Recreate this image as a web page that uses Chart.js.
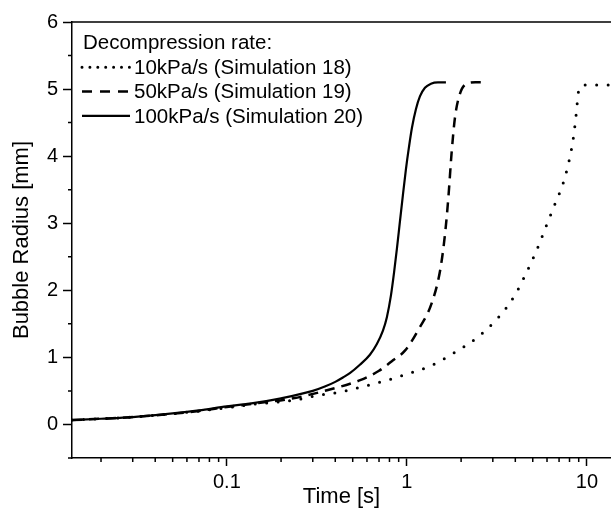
<!DOCTYPE html>
<html>
<head>
<meta charset="utf-8">
<script src="https://cdn.jsdelivr.net/npm/chart.js@4"></script>
<style>
  body { margin: 0; background: #fff; overflow: hidden; }
</style>
</head>
<body>
<canvas id="bubbleChart" width="611" height="508"></canvas>
<script>
// Data
const legendTitle = "Decompression rate:";
const seriesLabels = ["10kPa/s (Simulation 18)", "50kPa/s (Simulation 19)", "100kPa/s (Simulation 20)"];

const time10 = [0.0138, 0.02, 0.03, 0.05, 0.07, 0.1, 0.15, 0.234, 0.315, 0.44, 0.6, 0.8, 1.02, 1.37, 1.81, 2.44,
  3.21, 3.98, 4.62, 5.26, 5.9, 6.63, 7.38, 7.97, 8.41, 8.71, 8.97, 9.3, 9.58, 14];
const radius10 = [0.065, 0.085, 0.11, 0.16, 0.2, 0.25, 0.31, 0.36, 0.43, 0.49, 0.58, 0.67, 0.76, 0.88, 1.06, 1.29,
  1.59, 1.93, 2.27, 2.6, 2.94, 3.28, 3.6, 3.94, 4.28, 4.62, 4.96, 5.05, 5.06, 5.06];

const time50 = [0.0138, 0.02, 0.03, 0.05, 0.07, 0.1, 0.15, 0.234, 0.36, 0.55, 0.7, 0.84, 0.975, 1.18, 1.37, 1.53,
  1.63, 1.7, 1.77, 1.85, 1.97, 2.15, 2.4, 2.7];
const radius50 = [0.065, 0.085, 0.11, 0.16, 0.2, 0.26, 0.32, 0.39, 0.51, 0.66, 0.8, 0.96, 1.1, 1.45, 1.8, 2.3,
  2.85, 3.39, 4.04, 4.58, 4.93, 5.08, 5.1, 5.1];

const time100 = [0.0138, 0.02, 0.03, 0.05, 0.07, 0.1, 0.134, 0.2, 0.3, 0.35, 0.4, 0.441, 0.482, 0.548, 0.623,
  0.681, 0.736, 0.774, 0.815, 0.847, 0.88, 0.914, 0.95, 0.987, 1.026, 1.066, 1.122, 1.181, 1.259, 1.36, 1.487, 1.647];
const radius100 = [0.065, 0.085, 0.11, 0.165, 0.21, 0.27, 0.31, 0.39, 0.5, 0.565, 0.635, 0.7, 0.765, 0.89, 1.04,
  1.2, 1.4, 1.6, 1.92, 2.25, 2.62, 3.02, 3.42, 3.8, 4.13, 4.42, 4.7, 4.89, 5.02, 5.08, 5.1, 5.1];

const xMajorTicks = [0.1, 1, 10];
const xTickLabels = ["0.1", "1", "10"];
const xMinorTicks = [0.02, 0.03, 0.04, 0.05, 0.06, 0.07, 0.08, 0.09,
  0.2, 0.3, 0.4, 0.5, 0.6, 0.7, 0.8, 0.9, 2, 3, 4, 5, 6, 7, 8, 9];
const yTickLabels = ["0", "1", "2", "3", "4", "5", "6"];

const FONT = '"Liberation Sans", Arial, sans-serif';
Chart.defaults.font.family = FONT;
Chart.defaults.color = "#000";

function toPoints(xs, ys) {
  return xs.map((x, i) => ({ x: x, y: ys[i] }));
}

// legend drawn inside the plot, plus minor ticks and the top frame line
const framePlugin = {
  id: "framePlugin",
  afterDraw(chart) {
    const { ctx, chartArea, scales } = chart;
    const xs = scales.x, ys = scales.y;
    ctx.save();
    ctx.strokeStyle = "#000";
    ctx.lineWidth = 1.5;
    ctx.beginPath();
    xs.ticks.forEach(t => {
      if (!t.major) {
        const px = xs.getPixelForValue(t.value);
        ctx.moveTo(px, chartArea.bottom);
        ctx.lineTo(px, chartArea.bottom + 4);
      }
    });
    ys.ticks.forEach(t => {
      if (!Number.isInteger(t.value)) {
        const py = ys.getPixelForValue(t.value);
        ctx.moveTo(chartArea.left, py);
        ctx.lineTo(chartArea.left - 4, py);
      }
    });
    ctx.moveTo(chartArea.left, chartArea.top);
    ctx.lineTo(chartArea.right, chartArea.top);
    ctx.stroke();

    // legend
    ctx.font = "20.5px " + FONT;
    ctx.fillStyle = "#000";
    ctx.textBaseline = "middle";
    const x0 = chartArea.left + 10;
    let y = chartArea.top + 21;
    ctx.fillText(legendTitle, x0 + 1, y);
    chart.data.datasets.forEach(ds => {
      y += 24.3;
      ctx.beginPath();
      ctx.setLineDash(ds.legendDash || []);
      ctx.lineCap = ds.borderCapStyle || "butt";
      ctx.lineWidth = ds.borderWidth;
      ctx.moveTo(x0, y);
      ctx.lineTo(x0 + 48, y);
      ctx.stroke();
      ctx.setLineDash([]);
      ctx.fillText(ds.label, x0 + 52, y + 1);
    });
    ctx.restore();
  }
};

const ctx = document.getElementById("bubbleChart").getContext("2d");

const bubbleChart = new Chart(ctx, {
  type: "line",
  data: {
    datasets: [
      {
        label: seriesLabels[0],
        data: toPoints(time10, radius10),
        borderColor: "#000",
        borderWidth: 3,
        borderDash: [0, 11.5],
        legendDash: [0, 7.9],
        borderCapStyle: "round",
        pointRadius: 0,
        cubicInterpolationMode: "monotone",
      },
      {
        label: seriesLabels[1],
        data: toPoints(time50, radius50),
        borderColor: "#000",
        borderWidth: 2.5,
        borderDash: [10, 7],
        legendDash: [10, 8],
        pointRadius: 0,
        cubicInterpolationMode: "monotone",
      },
      {
        label: seriesLabels[2],
        data: toPoints(time100, radius100),
        borderColor: "#000",
        borderWidth: 2.2,
        pointRadius: 0,
        cubicInterpolationMode: "monotone",
      },
    ],
  },
  options: {
    responsive: false,
    animation: false,
    layout: { padding: { top: 22, right: 0, left: 0, bottom: 0 } },
    plugins: {
      legend: { display: false },
      tooltip: { enabled: false },
    },
    scales: {
      x: {
        type: "logarithmic",
        min: 0.0138,
        max: 13.6,
        border: { display: true, color: "#000", width: 1.5 },
        grid: {
          drawOnChartArea: false,
          tickLength: 8,
          tickWidth: 1.5,
          tickColor: c => (c.tick && c.tick.major ? "#000" : "rgba(0,0,0,0)"),
        },
        afterBuildTicks: scale => {
          const all = xMajorTicks.map(v => ({ value: v, major: true }))
            .concat(xMinorTicks.map(v => ({ value: v, major: false })));
          all.sort((a, b) => a.value - b.value);
          scale.ticks = all;
        },
        ticks: {
          autoSkip: false,
          maxRotation: 0,
          padding: 4,
          font: { size: 20 },
          callback: v => {
            const i = xMajorTicks.indexOf(v);
            return i >= 0 ? xTickLabels[i] : "";
          },
        },
        title: {
          display: true,
          text: "Time [s]",
          font: { size: 22 },
          padding: { top: 0, bottom: -2 },
        },
        afterFit: scale => { scale.height = 50; },
      },
      y: {
        min: -0.5,
        max: 6,
        border: { display: true, color: "#000", width: 1.5 },
        grid: {
          drawOnChartArea: false,
          tickLength: 9,
          tickWidth: 1.5,
          tickColor: c => (c.tick && Number.isInteger(c.tick.value) ? "#000" : "rgba(0,0,0,0)"),
        },
        ticks: {
          stepSize: 0.5,
          autoSkip: false,
          padding: 5,
          font: { size: 20 },
          callback: v => (Number.isInteger(v) ? yTickLabels[v] : ""),
        },
        title: {
          display: true,
          text: "Bubble Radius [mm]",
          font: { size: 22 },
          padding: { top: 9, bottom: 0 },
        },
        afterFit: scale => { scale.width = 72; },
      },
    },
  },
  plugins: [framePlugin],
});
</script>
</body>
</html>
